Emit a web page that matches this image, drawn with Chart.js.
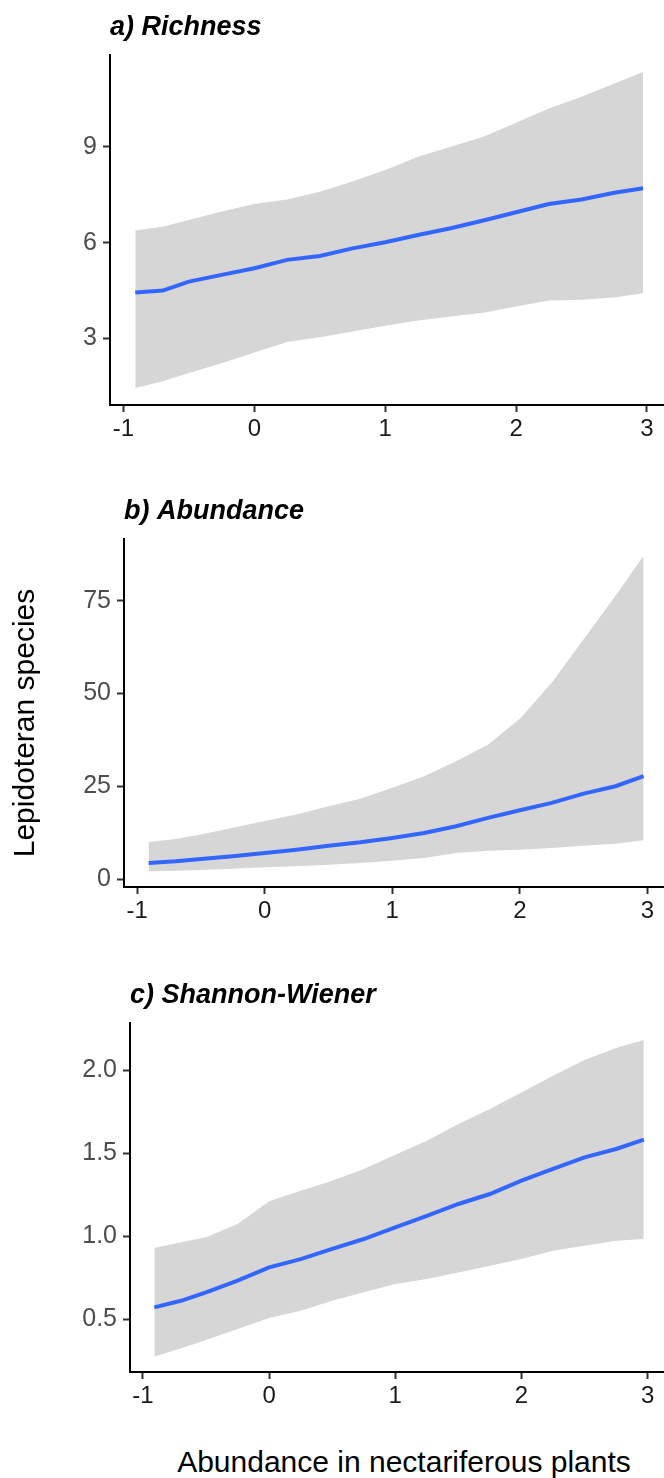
<!DOCTYPE html>
<html>
<head>
<meta charset="utf-8">
<script src="https://cdn.jsdelivr.net/npm/chart.js@4.4.1/dist/chart.umd.min.js"></script>
<style>
    body { margin: 0; background: #fff; }
    #wrap { position: relative; width: 664px; height: 1478px; overflow: hidden; background: #fff; }
    #wrap canvas { position: absolute; left: 0; }
    .axisTitle { position: absolute; font-family: "Liberation Sans", Arial, sans-serif; font-size: 30px; line-height: 34px; color: #000; text-align: center; white-space: nowrap; }
    #yTitle { left: -126px; top: 706px; width: 300px; height: 34px; transform: rotate(-90deg); }
    #xTitle { left: 104px; top: 1445px; width: 600px; height: 34px; }
</style>
</head>
<body>
<div id="wrap">
    <canvas id="chartA" width="664" height="445" style="top:0px"></canvas>
    <canvas id="chartB" width="664" height="455" style="top:480px"></canvas>
    <canvas id="chartC" width="664" height="460" style="top:960px"></canvas>
    <div id="yTitle" class="axisTitle">Lepidoteran species</div>
    <div id="xTitle" class="axisTitle">Abundance in nectariferous plants</div>
</div>
<script>
const xs = [-0.91, -0.7, -0.5, -0.25, 0, 0.25, 0.5, 0.75, 1, 1.25, 1.5, 1.75, 2, 2.25, 2.5, 2.75, 2.97];
const xTicks = [-1, 0, 1, 2, 3];

// a) Richness
const richFit = [4.44, 4.5, 4.78, 4.99, 5.2, 5.46, 5.58, 5.82, 6.01, 6.24, 6.45, 6.69, 6.95, 7.21, 7.35, 7.56, 7.7];
const richUpper = [6.38, 6.5, 6.71, 6.97, 7.21, 7.35, 7.59, 7.91, 8.27, 8.69, 9.0, 9.31, 9.75, 10.2, 10.56, 10.98, 11.34];
const richLower = [1.45, 1.66, 1.92, 2.23, 2.56, 2.89, 3.04, 3.22, 3.4, 3.56, 3.69, 3.81, 4.0, 4.19, 4.21, 4.28, 4.42];
const richTicks = [3, 6, 9];

// b) Abundance
const abundFit = [4.32, 4.77, 5.4, 6.12, 7.01, 7.91, 8.99, 9.89, 11.06, 12.41, 14.21, 16.46, 18.53, 20.5, 23.0, 25.0, 27.7];
const abundUpper = [9.98, 10.8, 12.0, 13.8, 15.6, 17.4, 19.6, 21.6, 24.6, 27.7, 31.7, 36.2, 43.2, 52.9, 64.6, 76.3, 87.1];
const abundLower = [2.07, 2.25, 2.43, 2.79, 3.15, 3.42, 3.87, 4.32, 4.95, 5.67, 7.01, 7.64, 7.91, 8.36, 8.99, 9.53, 10.43];
const abundTicks = [0, 25, 50, 75];

// c) Shannon-Wiener
const shannonFit = [0.572, 0.612, 0.663, 0.733, 0.813, 0.863, 0.924, 0.984, 1.054, 1.124, 1.195, 1.255, 1.335, 1.406, 1.476, 1.526, 1.582];
const shannonUpper = [0.93, 0.964, 0.994, 1.074, 1.211, 1.275, 1.335, 1.406, 1.492, 1.576, 1.677, 1.767, 1.867, 1.968, 2.062, 2.135, 2.183];
const shannonLower = [0.277, 0.325, 0.376, 0.442, 0.508, 0.552, 0.612, 0.663, 0.713, 0.743, 0.783, 0.823, 0.863, 0.914, 0.944, 0.974, 0.984];
const shannonTicks = [0.5, 1.0, 1.5, 2.0];

Chart.defaults.font.family = '"Liberation Sans", Arial, sans-serif';

// panel title drawn just above the plot area, left aligned with the y axis
const panelTitle = {
    id: 'panelTitle',
    afterDraw(chart, args, opts) {
        let ctx = chart.ctx;
        ctx.save();
        ctx.font = 'italic bold 27px "Liberation Sans", Arial, sans-serif';
        ctx.fillStyle = '#000';
        ctx.textAlign = 'left';
        ctx.textBaseline = 'alphabetic';
        ctx.fillText(opts.text, chart.chartArea.left, chart.chartArea.top - 20);
        ctx.restore();
    }
};

function toPoints(ys) {
    return xs.map(function (x, i) { return { x: x, y: ys[i] }; });
}

function makePanel(id, title, fit, upper, lower, yTicks, yMin, yMax, decimals, layout) {
    let canvas = document.getElementById(id);
    return new Chart(canvas, {
        type: 'line',
        data: {
            datasets: [{
                data: toPoints(fit),
                borderColor: '#3366FF',
                borderWidth: 4,
                pointRadius: 0,
                tension: 0,
                fill: false,
                order: 0
            }, {
                data: toPoints(upper),
                borderWidth: 0,
                borderColor: 'rgba(0,0,0,0)',
                backgroundColor: '#D6D6D6',
                pointRadius: 0,
                tension: 0,
                fill: '+1',
                order: 1
            }, {
                data: toPoints(lower),
                borderWidth: 0,
                borderColor: 'rgba(0,0,0,0)',
                pointRadius: 0,
                tension: 0,
                fill: false,
                order: 1
            }]
        },
        options: {
            responsive: false,
            animation: false,
            devicePixelRatio: 1,
            layout: { padding: { top: layout.top, left: 0, right: 0, bottom: 0 } },
            plugins: {
                legend: { display: false },
                tooltip: { enabled: false },
                title: { display: false },
                panelTitle: { text: title }
            },
            scales: {
                x: {
                    type: 'linear',
                    min: -1.103,
                    max: 3.13,
                    afterBuildTicks: function (scale) {
                        scale.ticks = xTicks.map(function (v) { return { value: v }; });
                    },
                    afterFit: function (scale) { scale.height = layout.xHeight; },
                    grid: { display: true, drawOnChartArea: false, drawTicks: true, tickLength: 7, tickWidth: 2, tickColor: '#333333' },
                    border: { display: true, color: '#000', width: 2 },
                    ticks: {
                        color: '#1a1a1a',
                        font: { size: 24 },
                        padding: 3,
                        maxRotation: 0,
                        callback: function (v) { return String(v); }
                    }
                },
                y: {
                    type: 'linear',
                    min: yMin,
                    max: yMax,
                    afterBuildTicks: function (scale) {
                        scale.ticks = yTicks.map(function (v) { return { value: v }; });
                    },
                    afterFit: function (scale) { scale.width = layout.yWidth; },
                    grid: { display: true, drawOnChartArea: false, drawTicks: true, tickLength: 7, tickWidth: 2, tickColor: '#333333' },
                    border: { display: true, color: '#000', width: 2 },
                    ticks: {
                        color: '#4D4D4D',
                        font: { size: 25 },
                        padding: 6,
                        callback: function (v) { return v.toFixed(decimals); }
                    }
                }
            }
        },
        plugins: [panelTitle]
    });
}

makePanel('chartA', 'a) Richness', richFit, richUpper, richLower, richTicks, 0.92, 11.87, 0,
    { top: 55, xHeight: 40, yWidth: 110 });
makePanel('chartB', 'b) Abundance', abundFit, abundUpper, abundLower, abundTicks, -2.15, 91.6, 0,
    { top: 59, xHeight: 48, yWidth: 124 });
makePanel('chartC', 'c) Shannon-Wiener', shannonFit, shannonUpper, shannonLower, shannonTicks, 0.183, 2.285, 1,
    { top: 63, xHeight: 48, yWidth: 130 });
</script>
</body>
</html>
